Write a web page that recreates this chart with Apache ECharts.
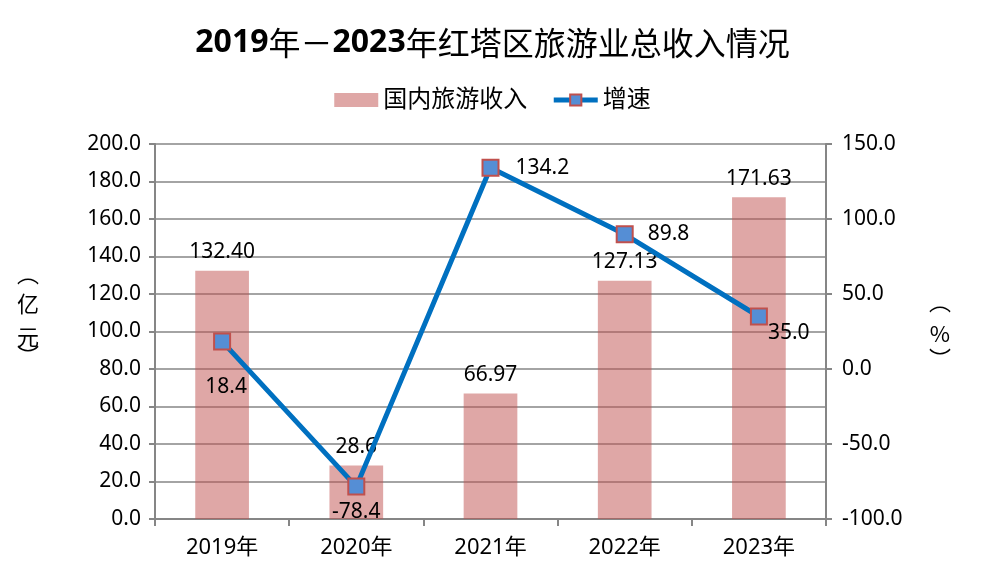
<!DOCTYPE html>
<html><head><meta charset="utf-8">
<script src="https://cdn.jsdelivr.net/npm/echarts@6/dist/echarts.min.js"></script>
<style>html,body{margin:0;padding:0;background:#fff}#c{width:985px;height:582px}</style>
</head><body><div id="c"></div>
<script>
const categories = ['2019年','2020年','2021年','2022年','2023年'];
const revenue = [132.40, 28.6, 66.97, 127.13, 171.63];
const revenueLabels = ['132.40','28.6','66.97','127.13','171.63'];
const growth = [18.4, -78.4, 134.2, 89.8, 35.0];
const growthLabels = ['18.4','-78.4','134.2','89.8','35.0'];
const titleParts = [['b','2019'],['n','年－'],['b','2023'],['n','年红塔区旅游业总收入情况']];

const F = '"Noto Sans", "Noto Sans CJK SC", sans-serif';
const FC = '"Noto Sans CJK SC", sans-serif';
const chart = echarts.init(document.getElementById('c'));
const lblPos = [
  {position:'bottom', distance:26, offset:[4,0]},
  {position:'bottom', distance:6},
  {position:'right', distance:16},
  {position:'right', distance:14},
  {position:'right', distance:0, offset:[0,17]}
];
const txt = (t, x, y) => ({type:'text', x:x, y:y,
  style:{text:t, fontFamily:FC, fontSize:22, fill:'#000', align:'center', verticalAlign:'middle'}});
chart.setOption({
  animation:false,
  backgroundColor:'#fff',
  title:{text:titleParts.map(p=>'{'+p[0]+'|'+p[1]+'}').join(''), left:'center', top:22,
    textStyle:{rich:{
      b:{fontFamily:F, fontSize:32, fontWeight:'bold', color:'#000'},
      n:{fontFamily:FC, fontSize:32, fontWeight:'normal', color:'#000'}}}},
  legend:{top:83, left:'center', itemGap:24, itemWidth:44, itemHeight:14,
    textStyle:{fontFamily:F, fontSize:24, color:'#000'},
    lineStyle:{width:5},
    data:[{name:'国内旅游收入', icon:'rect'}, {name:'增速'}]},
  grid:{left:155, right:159, top:144, bottom:63},
  xAxis:{type:'category', data:categories,
    axisLine:{lineStyle:{color:'#868686', width:2}},
    axisTick:{show:true, length:7, lineStyle:{color:'#868686', width:2}},
    axisLabel:{fontFamily:F, fontSize:22, color:'#000', margin:18}},
  yAxis:[
    {type:'value', min:0, max:200, interval:20,
     axisLine:{show:true, lineStyle:{color:'#868686', width:2}},
     axisTick:{show:true, length:6, lineStyle:{color:'#868686', width:2}},
     splitLine:{lineStyle:{color:'#868686', width:1.5}},
     axisLabel:{fontFamily:F, fontSize:21, color:'#000', margin:14, formatter:v=>v.toFixed(1)}},
    {type:'value', min:-100, max:150, interval:50,
     axisLine:{show:true, lineStyle:{color:'#868686', width:2}},
     axisTick:{show:true, length:6, lineStyle:{color:'#868686', width:2}},
     splitLine:{show:false},
     axisLabel:{fontFamily:F, fontSize:21, color:'#000', margin:16, formatter:v=>v.toFixed(1)}}
  ],
  series:[
    {name:'国内旅游收入', type:'bar', barWidth:'40%', yAxisIndex:0,
     itemStyle:{color:'rgba(192,80,77,0.5)'},
     data:revenue.map((v,i)=>({value:v, label:{formatter:revenueLabels[i]}})),
     label:{show:true, position:'top', distance:8, fontFamily:F, fontSize:21, color:'#000'}},
    {name:'增速', type:'line', yAxisIndex:1, symbol:'rect', symbolSize:16,
     lineStyle:{color:'#0070C0', width:5},
     itemStyle:{color:'#558ED5', borderColor:'#C0504D', borderWidth:2},
     data:growth.map((v,i)=>({value:v, label:Object.assign({formatter:growthLabels[i]}, lblPos[i])})),
     label:{show:true, fontFamily:F, fontSize:21, color:'#000'}, z:5}
  ],
  graphic:[
    txt('︵', 28, 274),
    txt('亿', 28, 304),
    txt('元', 28, 337),
    txt('︶', 28, 356),
    txt('︵', 940, 302),
    txt('%', 940, 334),
    txt('︶', 940, 359)
  ]
});
</script></body></html>
